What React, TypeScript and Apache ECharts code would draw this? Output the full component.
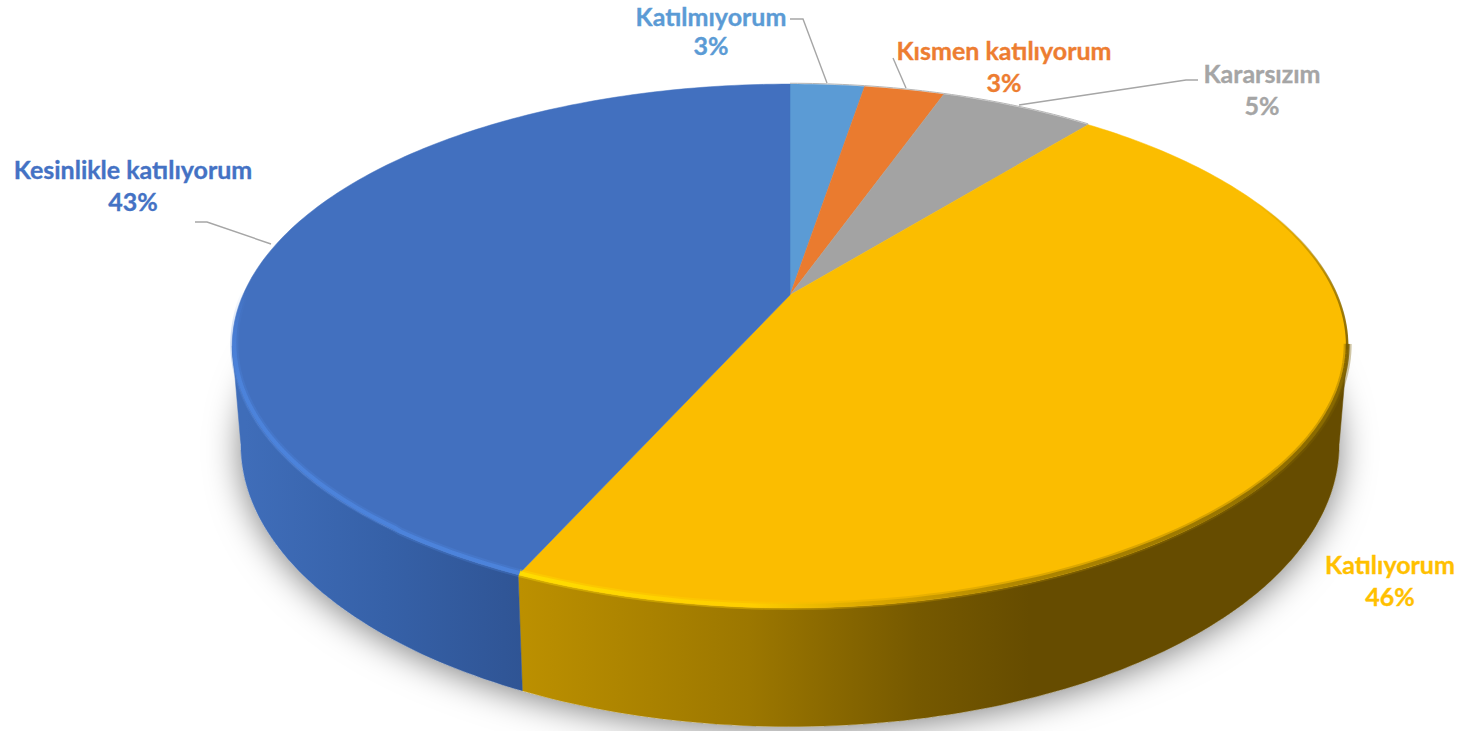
import React, { useEffect, useRef } from "react";
import * as echarts from "echarts";

const categories = ["Katılmıyorum", "Kısmen katılıyorum", "Kararsızım", "Katılıyorum", "Kesinlikle katılıyorum"];
const values = [2.6, 2.8, 5.4, 45.9, 43.3];
const topColors = ["#5B9BD5", "#EA7B2F", "#A3A3A3", "#FBBD00", "#4270BF"];
const labelColors = ["#5B9BD5", "#ED7D31", "#A5A5A5", "#FFC000", "#4472C4"];

const labelCenters = [[711, 29], [1004, 66], [1262, 89], [1390, 580], [133, 185]];
const leaders = [
  [[790, 19], [803, 19], [827, 83]],
  [[893, 58], [906, 88]],
  [[1019, 105], [1186, 80], [1198, 80]],
  [],
  [[195, 222], [207, 222], [271, 244]],
];

const CX = 790;
const K = 0.1947;
const TOP = { A: 547, B: 252, Y0: 295 };
const BOTTOM = { A: 538.6, B: 271, Y0: 390 };
const WALL_FROM = 101.2;
const WALL_TO = 258.8;
const total = values.reduce((a, b) => a + b, 0);

function pt(deg: number, plane: { A: number; B: number; Y0: number }) {
  const r = (deg * Math.PI) / 180;
  const u = Math.sin(r);
  const v = -Math.cos(r);
  const d = 1 - K * v;
  return [CX + (plane.A * u) / d, plane.Y0 + (plane.B * v) / d];
}
function arc(a: number, b: number, plane: any) {
  const out: number[][] = [];
  const n = Math.max(2, Math.ceil(Math.abs(b - a)));
  for (let i = 0; i <= n; i++) out.push(pt(a + ((b - a) * i) / n, plane));
  return out;
}
const gradXY = (x0: number, y0: number, x1: number, y1: number, stops: [number, string][]) =>
  new echarts.graphic.LinearGradient(x0, y0, x1, y1, stops.map(([offset, color]) => ({ offset, color })), true);
const grad = (x0: number, x1: number, stops: [number, string][]) => gradXY(x0, 0, x1, 0, stops);

function wallFill(i: number) {
  if (i === 3)
    return grad(520, 1030, [[0, "#BC9000"], [0.45, "#9C7700"], [0.78, "#765900"], [1, "#664C00"]]);
  return grad(245, 525, [[0, "#3F6DB9"], [0.5, "#3661A8"], [1, "#2F5494"]]);
}

function rimHighlights(i: number) {
  const out: any[] = [];
  const line = (pts: number[][], stroke: any, lineWidth: number, opacity: number) =>
    out.push({ type: "polyline", shape: { points: pts }, style: { stroke, fill: "none", lineWidth, opacity, lineJoin: "round" }, silent: true });
  if (i === 3) {
    const g = grad(520, 1347, [[0, "#FFE000"], [0.28, "#FFD000"], [0.42, "#D9A600"], [0.6, "#A88100"], [0.85, "#8F6E00"], [1, "#7A5E00"]]);
    const pts = arc(101.2, 204, TOP).map(([x, y]) => [x, y - 2]);
    line(pts, g, 8, 0.35);
    line(pts, g, 4, 0.85);
    const back = gradXY(0, 200, 0, 350, [[0, "rgba(122,94,0,0)"], [0.5, "rgba(122,94,0,0.55)"], [1, "rgba(122,94,0,0.9)"]]);
    line(arc(60, 102, TOP).map(([x, y]) => [x - 0.5, y]), back, 2.5, 1);
  }
  if (i === 4) {
    const g = gradXY(0, 290, 0, 380, [[0, "rgba(74,128,216,0)"], [0.6, "rgba(74,128,216,1)"], [1, "rgba(77,133,222,1)"]]);
    const pts = arc(204, 285, TOP).map(([x, y]) => [x + (x < 400 ? 2 : 0), y - 2]);
    line(pts, g, 8, 0.3);
    line(pts, g, 4, 0.85);
  }
  return out;
}

function renderSlice(params: any, api: any) {
  const i = params.dataIndex;
  const v = api.value(0);
  const before = values.slice(0, i).reduce((a, b) => a + b, 0);
  const a0 = (before / total) * 360;
  const a1 = ((before + v) / total) * 360;
  const children: any[] = [];
  const w0 = Math.max(a0, WALL_FROM);
  const w1 = Math.min(a1, WALL_TO);
  if (w1 > w0) {
    const pts = arc(w0, w1, TOP).concat(arc(w0, w1, BOTTOM).reverse());
    const fill = wallFill(i);
    children.push({ type: "polygon", shape: { points: pts }, style: { fill, stroke: fill, lineWidth: 0.5 } });
  }
  const top = [[CX, TOP.Y0], ...arc(a0, a1, TOP)];
  children.push({ type: "polygon", shape: { points: top }, style: { fill: topColors[i], stroke: topColors[i], lineWidth: 0.5 } });
  if (a1 <= 60 || a0 >= 300) {
    children.push({ type: "polyline", shape: { points: arc(a0, a1, TOP).map(([x, y]) => [x, y - 0.8]) }, style: { stroke: "#B5B5B5", fill: "none", lineWidth: 1 } });
  }
  return { type: "group", children };
}

function renderRims(params: any) {
  return { type: "group", children: rimHighlights(params.dataIndex) };
}

function renderLabel(params: any, api: any) {
  const i = params.dataIndex;
  const pct = Math.round((api.value(0) / total) * 100);
  const [x, y] = labelCenters[i];
  const children: any[] = [];
  if (leaders[i].length) {
    children.push({ type: "polyline", shape: { points: leaders[i] }, style: { stroke: "#A6A6A6", fill: "none", lineWidth: 1.4 } });
  }
  const font = {
    align: "center",
    verticalAlign: "middle",
    fontFamily: "Lato",
    fontWeight: "bold",
    fontSize: 25,
    fill: labelColors[i],
    stroke: labelColors[i],
    lineWidth: 0.35,
  };
  children.push({ type: "text", style: { ...font, text: categories[i], x, y: Math.max(y - 16, 16) } });
  children.push({ type: "text", style: { ...font, text: pct + "%", x, y: y + 16 } });
  return { type: "group", children };
}

function renderShadow() {
  const pts = arc(0, 359, BOTTOM);
  return {
    type: "polygon",
    shape: { points: pts },
    style: { fill: "#FFFFFF", shadowColor: "rgba(0,0,0,0.5)", shadowBlur: 34, shadowOffsetX: 0, shadowOffsetY: 4 },
  };
}

export default function App() {
  const ref = useRef<HTMLDivElement>(null);
  useEffect(() => {
    const chart = echarts.init(ref.current!, null, { renderer: "svg" });
    const data = values.map((v) => [v]);
    chart.setOption({
      animation: false,
      backgroundColor: "#FFFFFF",
      series: [
        { type: "custom", coordinateSystem: "none", z: 1, silent: true, data: [[1]], renderItem: renderShadow, clip: false },
        { type: "custom", name: "Pie", coordinateSystem: "none", z: 2, silent: true, data, renderItem: renderSlice, clip: false },
        { type: "custom", name: "Rims", coordinateSystem: "none", z: 3, silent: true, data, renderItem: renderRims, clip: false },
        { type: "custom", name: "Labels", coordinateSystem: "none", z: 4, silent: true, data, renderItem: renderLabel, clip: false },
      ],
    });
    return () => chart.dispose();
  }, []);
  return <div ref={ref} style={{ position: "fixed", left: 0, top: 0, width: 1459, height: 731 }} />;
}
